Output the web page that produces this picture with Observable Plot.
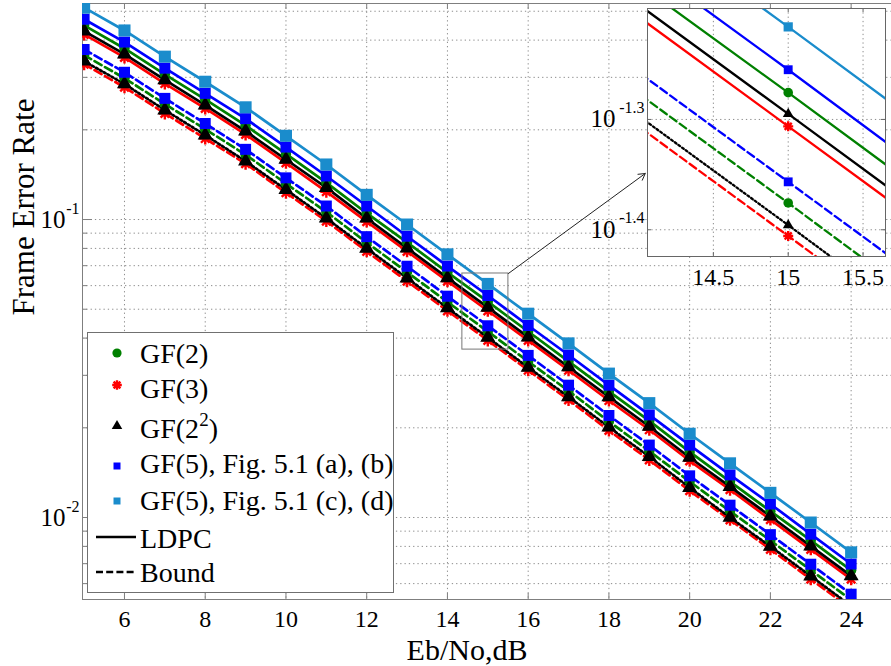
<!DOCTYPE html>
<html><head><meta charset="utf-8">
<script src="https://cdn.jsdelivr.net/npm/d3@7"></script>
<script src="https://cdn.jsdelivr.net/npm/@observablehq/plot@0.6"></script>
<style>
body{margin:0;background:#fff;}
#chart{position:relative;width:891px;height:666px;overflow:hidden;font-family:"Liberation Serif",serif;}
#chart svg{position:absolute;}
#chart svg text, #chart svg tspan{font-family:"Liberation Serif","Times New Roman",serif !important;}
</style></head><body><div id="chart"></div>
<script>
// ---------------- data ----------------
const ebNo = [5,6,7,8,9,10,11,12,13,14,15,16,17,18,19,20,21,22,23,24];

const gf2Ldpc   = [0.448,0.375,0.307,0.253,0.207,0.166,0.133,0.105,0.0838,0.0665,0.0530,0.0421,0.0334,0.0265,0.0211,0.0166,0.0132,0.0105,0.00838,0.00665];
const gf3Ldpc   = [0.418,0.350,0.286,0.236,0.193,0.155,0.124,0.0984,0.0782,0.0621,0.0494,0.0393,0.0312,0.0247,0.0197,0.0155,0.0124,0.00984,0.00782,0.00621];
const gf4Ldpc   = [0.429,0.359,0.294,0.242,0.198,0.159,0.128,0.101,0.0802,0.0637,0.0507,0.0403,0.0320,0.0254,0.0202,0.0159,0.0127,0.0101,0.00802,0.00637];
const gf5abLdpc = [0.470,0.394,0.322,0.265,0.218,0.175,0.140,0.111,0.0879,0.0698,0.0556,0.0441,0.0351,0.0278,0.0221,0.0175,0.0139,0.0111,0.00879,0.00698];
const gf5cdLdpc = [0.514,0.431,0.352,0.290,0.238,0.191,0.153,0.121,0.0962,0.0764,0.0608,0.0483,0.0384,0.0304,0.0242,0.0191,0.0152,0.0121,0.00962,0.00764];

const gf2Bound  = [0.356,0.298,0.244,0.201,0.165,0.132,0.106,0.0837,0.0666,0.0529,0.0421,0.0334,0.0266,0.0210,0.0167,0.0132,0.0105,0.00837,0.00666,0.00529];
const gf3Bound  = [0.332,0.278,0.227,0.187,0.154,0.123,0.0988,0.0782,0.0621,0.0494,0.0393,0.0312,0.0248,0.0196,0.0156,0.0123,0.00982,0.00782,0.00621,0.00494];
const gf4Bound  = [0.340,0.285,0.233,0.192,0.157,0.126,0.101,0.0800,0.0636,0.0505,0.0402,0.0319,0.0254,0.0201,0.0160,0.0126,0.0100,0.00800,0.00636,0.00505];
const gf5Bound  = [0.372,0.312,0.255,0.210,0.172,0.138,0.111,0.0876,0.0697,0.0553,0.0440,0.0350,0.0278,0.0220,0.0175,0.0138,0.0110,0.00876,0.00697,0.00553];

const codeNames   = ["GF(2)", "GF(3)", "GF(2^2)", "GF(5), Fig. 5.1 (a), (b)", "GF(5), Fig. 5.1 (c), (d)"];
const codeColors  = ["#008000", "#ff0000", "#000000", "#0000ff", "#1a8ccc"];
const codeSymbols = ["circle", "asterisk", "triangle", "square", "square"];
const typeNames   = ["LDPC", "Bound"];

const xTicks = [6,8,10,12,14,16,18,20,22,24];
const yMajor = [0.01, 0.1];
const yMajorExp = ["-2", "-1"];
const yMinor = [0.006,0.007,0.008,0.009,0.02,0.03,0.04,0.05,0.06,0.07,0.08,0.09,0.2,0.3,0.4,0.5];

const insetXTicks = [14.5, 15, 15.5];
const insetYTicks = [Math.pow(10,-1.4), Math.pow(10,-1.3)];
const insetYExp = ["-1.4", "-1.3"];

// zoom box and pointer (annotation, data coordinates)
const zoomBox = [{x1:14.37, x2:15.51, y1:0.0366, y2:0.0659}];
const pointer = [{x1:15.51, y1:0.0659, x2:18.9, y2:0.1427}];

// --------------- build table ----------------
const curves = [
  {code:0, type:1, values:gf2Bound, dash:"8,4"},
  {code:1, type:1, values:gf3Bound, dash:"8,4"},
  {code:2, type:1, values:gf4Bound, dash:"2,2.5"},
  {code:3, type:1, values:gf5Bound, dash:"8,4"},
  {code:0, type:0, values:gf2Ldpc, dash:null},
  {code:1, type:0, values:gf3Ldpc, dash:null},
  {code:2, type:0, values:gf4Ldpc, dash:null},
  {code:3, type:0, values:gf5abLdpc, dash:null},
  {code:4, type:0, values:gf5cdLdpc, dash:null}
];
curves.forEach(c => c.rows = ebNo.map((x,i) => ({x, y:c.values[i]})));

const asterisk8 = {draw(ctx, size){ const r = Math.sqrt(size/Math.PI);
  for (let k=0;k<4;k++){ const a=k*Math.PI/4; ctx.moveTo(r*Math.cos(a), r*Math.sin(a)); ctx.lineTo(-r*Math.cos(a), -r*Math.sin(a)); } }};

function symFor(code){ return codeSymbols[code]==="asterisk" ? asterisk8 : codeSymbols[code]; }

function lineMarks(width){
  return curves.map(c => Plot.line(c.rows, {x:"x", y:"y", stroke:codeColors[c.code], strokeWidth:width,
     strokeDasharray:c.dash ?? undefined, clip:true}));
}
function dotMarks(sizes){
  const order = [0,1,2,3,4];
  const out = [];
  for (const t of [1,0]) for (const code of order) {
    const c = curves.find(k => k.code===code && k.type===t);
    if (!c) continue;
    const star = codeSymbols[code]==="asterisk";
    out.push(Plot.dot(c.rows, {x:"x", y:"y", symbol:symFor(code), r:sizes[code],
      fill: star ? "none" : codeColors[code], stroke: star ? codeColors[code] : "none",
      strokeWidth: star ? 2.4 : 0, clip:true}));
  }
  return out;
}

const grid = {stroke:"#8c8c8c", strokeDasharray:"1.3,3", strokeWidth:1};
const axisGray = "#7f7f7f";

// --------------- main chart ----------------
const W=891, H=666, mL=82, mR=0, mT=3, mB=67;
const fw = W-mL-mR, fh = H-mT-mB;

const main = Plot.plot({
  width:W, height:H, marginLeft:mL, marginRight:mR, marginTop:mT, marginBottom:mB,
  x:{domain:[4.96,25], axis:null},
  y:{type:"log", domain:[0.005307,0.5308], axis:null},
  style:{fontFamily:"Liberation Serif", background:"transparent", overflow:"visible", color:"black"},
  marks:[
    Plot.ruleX(xTicks, grid),
    Plot.ruleY(yMinor.concat(yMajor), grid),
    Plot.ruleX(xTicks, {stroke:axisGray, insetTop:fh-6}),
    Plot.ruleX(xTicks, {stroke:axisGray, insetBottom:fh-6}),
    Plot.ruleY(yMinor, {stroke:axisGray, insetRight:fw-5}),
    Plot.ruleY(yMajor, {stroke:axisGray, insetRight:fw-10}),
    Plot.frame({stroke:axisGray}),
    ...lineMarks(2.7),
    ...dotMarks([5.2, 6, 5.6, 6.2, 6.8]),
    Plot.rect(zoomBox, {x1:"x1", x2:"x2", y1:"y1", y2:"y2", fill:"none", stroke:"#777", strokeWidth:1}),
    Plot.arrow(pointer, {x1:"x1", y1:"y1", x2:"x2", y2:"y2", stroke:"#222", strokeWidth:1, headLength:11}),
    Plot.text(xTicks, {x:d=>d, frameAnchor:"bottom", dy:20, lineAnchor:"middle", text:d=>String(d), fontSize:24, fill:"black"}),
    Plot.text(yMajor, {y:d=>d, frameAnchor:"left", dx:-17, textAnchor:"end", lineAnchor:"middle", text:()=>"10", fontSize:25, fill:"black"}),
    Plot.text(yMajor, {y:d=>d, frameAnchor:"left", dx:-3, dy:-11, textAnchor:"end", lineAnchor:"middle", text:(d,i)=>yMajorExp[i], fontSize:16, fill:"black"}),
    Plot.text(["Frame Error Rate"], {frameAnchor:"left", dx:-58, dy:14, rotate:-90, lineAnchor:"middle", text:d=>d, fontSize:31, fill:"black"}),
    Plot.text(["Eb/No,dB"], {frameAnchor:"bottom", dx:-20, dy:51, lineAnchor:"middle", text:d=>d, fontSize:30, fill:"black"})
  ]
});
main.style.left="0px"; main.style.top="0px";
document.getElementById("chart").append(main);

// --------------- legend ----------------
const LX=87, LY=332, LW=307, LH=261;
const leg = d3.create("svg").attr("width",LW).attr("height",LH)
  .style("left",LX+"px").style("top",LY+"px").attr("font-family","Liberation Serif");
leg.append("rect").attr("x",0.5).attr("y",0.5).attr("width",LW-1).attr("height",LH-1)
  .attr("fill","white").attr("stroke","#707070");
const markerY = [353, 385, 426, 466, 501];
const textBase = [363, 398, 438, 473, 510];
const legSize = [Math.PI*4.6*4.6, Math.PI*4.8*4.8, 48, 49, 49];
codeNames.forEach((name,i) => {
  const g = leg.append("g").attr("transform",`translate(${117-LX},${markerY[i]-LY})`);
  const star = codeSymbols[i]==="asterisk";
  const type = star ? asterisk8 : ({circle:d3.symbolCircle, triangle:d3.symbolTriangle, square:d3.symbolSquare})[codeSymbols[i]];
  g.append("path").attr("d", d3.symbol(type, legSize[i])())
    .attr("fill", star ? "none" : codeColors[i]).attr("stroke", star ? codeColors[i] : "none").attr("stroke-width", star?2.4:0);
  const t = leg.append("text").attr("x",140-LX).attr("y",textBase[i]-LY).attr("font-size",28).attr("fill","black");
  const m = name.match(/^(.*)\^(\d)(.*)$/);
  if (m) {
    t.append("tspan").text(m[1]);
    t.append("tspan").attr("dy",-12).attr("font-size",19).text(m[2]);
    t.append("tspan").attr("dy",12).text(m[3]);
  } else t.text(name);
});
const lineY = [537, 572], lineText=[548, 582];
typeNames.forEach((name,i) => {
  leg.append("line").attr("x1",96-LX).attr("x2",136-LX).attr("y1",lineY[i]-LY).attr("y2",lineY[i]-LY)
    .attr("stroke","black").attr("stroke-width",2.5).attr("stroke-dasharray", i===1 ? "7,3.2" : null);
  leg.append("text").attr("x",140-LX).attr("y",lineText[i]-LY).attr("font-size",28).attr("fill","black").text(name);
});
document.getElementById("chart").append(leg.node());

// --------------- inset ----------------
const iL=65, iR=4, iT=2, iB=40, iW=238, iH=248;
const inset = Plot.plot({
  width:iL+iW+iR, height:iT+iH+iB, marginLeft:iL, marginRight:iR, marginTop:iT, marginBottom:iB,
  x:{domain:[14.06,15.65], axis:null},
  y:{type:"log", domain:[0.03765,0.06318], axis:null},
  style:{fontFamily:"Liberation Serif", background:"transparent", overflow:"visible", color:"black"},
  marks:[
    Plot.frame({fill:"white", stroke:"none"}),
    Plot.ruleX(insetXTicks, grid),
    Plot.ruleY(insetYTicks, grid),
    Plot.ruleX(insetXTicks, {stroke:"#666", insetTop:iH-4}),
    Plot.ruleX(insetXTicks, {stroke:"#666", insetBottom:iH-4}),
    Plot.ruleY(insetYTicks, {stroke:"#666", insetRight:iW-4}),
    Plot.ruleY(insetYTicks, {stroke:"#666", insetLeft:iW-4}),
    ...lineMarks(2.3),
    ...dotMarks([4.8, 5, 4, 5, 5.2]),
    Plot.frame({stroke:"#666"}),
    Plot.text(insetXTicks, {x:d=>d, frameAnchor:"bottom", dy:21, lineAnchor:"middle", text:d=>String(d), fontSize:24, fill:"black"}),
    Plot.text(insetYTicks, {y:d=>d, frameAnchor:"left", dx:-32, textAnchor:"end", lineAnchor:"middle", text:()=>"10", fontSize:25, fill:"black"}),
    Plot.text(insetYTicks, {y:d=>d, frameAnchor:"left", dx:-3, dy:-12, textAnchor:"end", lineAnchor:"middle", text:(d,i)=>insetYExp[i], fontSize:16, fill:"black"})
  ]
});
inset.style.left=(647-iL)+"px"; inset.style.top=(8-iT)+"px";
document.getElementById("chart").append(inset);
</script></body></html>
